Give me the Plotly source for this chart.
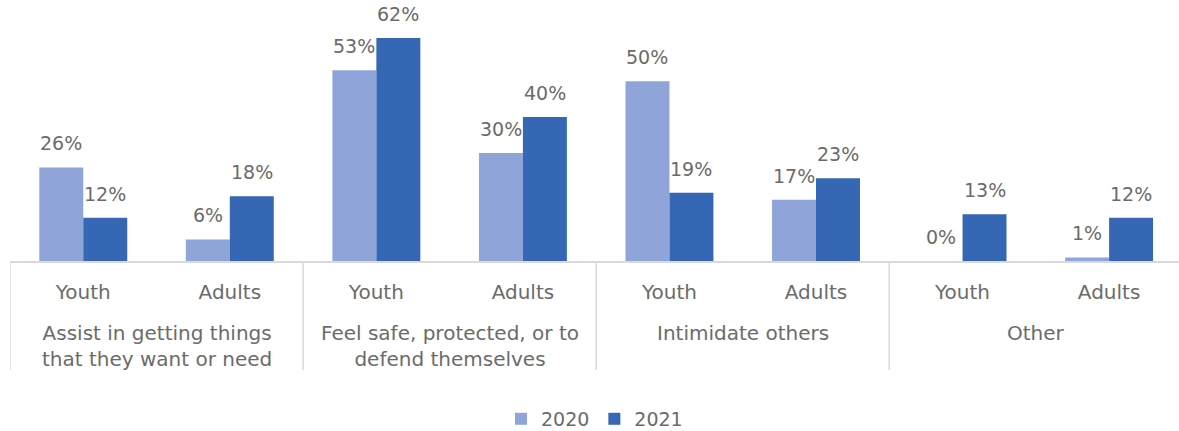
import plotly.graph_objects as go

groups = [
    "Assist in getting things<br>that they want or need",
    "Feel safe, protected, or to<br>defend themselves",
    "Intimidate others",
    "Other",
]
ages = ["Youth", "Adults"]
vals_2020 = [26, 6, 53, 30, 50, 17, 0, 1]
vals_2021 = [12, 18, 62, 40, 19, 23, 13, 12]

n_groups = len(groups)
slot_labels = [a for _ in groups for a in ages]
slot_pos = list(range(len(slot_labels)))

font_family = "DejaVu Sans, Verdana, sans-serif"
text_grey = "#6b6b6b"
rule_grey = "#D9D9D9"
bar_gap = 0.4
half_bar = (1 - bar_gap) / 4  # centre offset of each bar within a slot

fig = go.Figure()
series = [("2020", vals_2020, "#8FA5DA", -half_bar), ("2021", vals_2021, "#3567B5", half_bar)]
for name, vals, color, dx in series:
    fig.add_trace(go.Bar(
        x=slot_pos, y=[v / 100 for v in vals], name=name,
        marker=dict(color=color, line=dict(width=0)),
    ))
    # value labels floating above each bar
    for p, v in zip(slot_pos, vals):
        fig.add_annotation(
            x=p + dx, y=v / 100, xref="x", yref="y", yshift=11,
            text=f"{v}%", showarrow=False, yanchor="bottom", xanchor="center",
            font=dict(size=19, color=text_grey, family=font_family),
        )

# group captions under the Youth/Adults labels
for i, g in enumerate(groups):
    fig.add_annotation(
        x=2 * i + 0.5, y=0, xref="x", yref="paper", yshift=-58,
        text=g, showarrow=False, yanchor="top", xanchor="center",
        font=dict(size=20, color=text_grey, family=font_family), align="center",
    )

# vertical separators between groups
for i in range(n_groups):
    fig.add_shape(
        type="line", xref="x", yref="paper",
        x0=2 * i - 0.5, x1=2 * i - 0.5, y0=0, y1=-0.452,
        line=dict(color=rule_grey, width=1.5),
    )

fig.update_layout(
    width=1179, height=431,
    margin=dict(l=10, r=0, t=20, b=170, autoexpand=False),
    paper_bgcolor="white", plot_bgcolor="white",
    barmode="group", bargap=bar_gap, bargroupgap=0,
    font=dict(family=font_family, color=text_grey, size=20),
    legend=dict(orientation="h", x=0.5, xanchor="center",
                yref="container", y=0.028, yanchor="middle",
                font=dict(size=19, color=text_grey), itemwidth=30),
    showlegend=True,
)
fig.update_xaxes(
    tickmode="array", tickvals=slot_pos, ticktext=slot_labels,
    range=[-0.5, 7.477],
    showline=True, linecolor=rule_grey, linewidth=1.5,
    ticks="outside", ticklen=12, tickcolor="rgba(0,0,0,0)",
    tickfont=dict(size=20, color=text_grey), showgrid=False, zeroline=False,
)
fig.update_yaxes(range=[0, 0.67], visible=False, showgrid=False, zeroline=False)

fig.write_html("out.html")
